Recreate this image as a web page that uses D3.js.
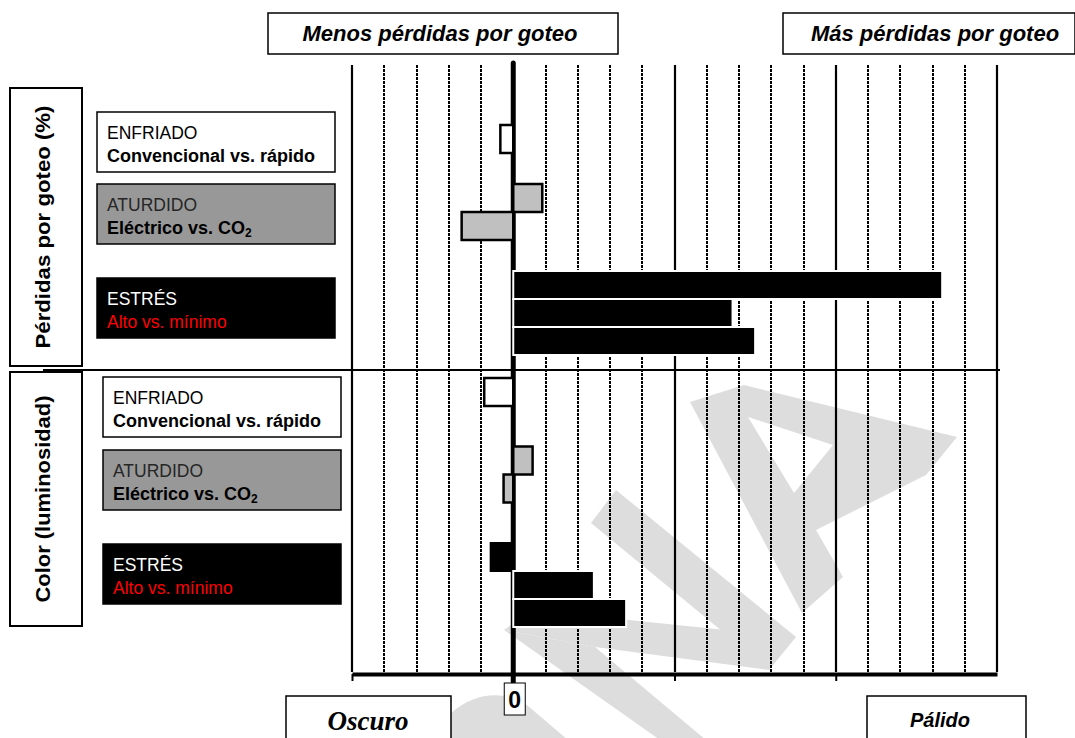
<!DOCTYPE html>
<html>
<head>
<meta charset="utf-8">
<script src="https://cdn.jsdelivr.net/npm/d3@7"></script>
<style>
    body { margin: 0; background: #ffffff; }
    svg text { font-family: "Liberation Sans", Arial, sans-serif; }
</style>
</head>
<body>
<div id="vis-container"></div>
<script>
// Chart data
const groupNames = ["ENFRIADO", "ATURDIDO", "ESTRÉS"];
const groupComparisons = ["Convencional vs. rápido", "Eléctrico vs. CO", "Alto vs. mínimo"];
const panelTitles = ["Pérdidas por goteo (%)", "Color (luminosidad)"];
const dripLossValues = [[-0.4], [0.9, -1.6], [13.3, 6.8, 7.5]];
const colourValues = [[-0.9], [0.6, -0.3], [-0.7, 2.5, 3.5]];
const xDomain = [-5, 15];
const zeroLabel = "0";
const topLabels = ["Menos pérdidas por goteo", "Más pérdidas por goteo"];
const bottomLabels = ["Oscuro", "Pálido"];

function main()
{
    // Plot frame
    const plot = { left: 352, right: 997, top: 65, bottom: 674, divider: 370 };

    // Styles per group (enfriado, aturdido, estres)
    const barFill = ["#ffffff", "#c0c0c0", "#000000"];
    const barStroke = ["#000000", "#000000", "#ffffff"];
    const boxFill = ["#ffffff", "#989898", "#000000"];
    const nameFill = ["#000000", "#262626", "#ffffff"];
    const compFill = ["#000000", "#000000", "#ff0000"];

    // Panels layout
    const panels = [
        { values: dripLossValues, barTop: 125, barBottom: 355, boxX: 97, boxTops: [112, 184, 278], titleBox: [88, 366], titleLen: 243 },
        { values: colourValues, barTop: 378, barBottom: 627, boxX: 103, boxTops: [377, 450, 544], titleBox: [372, 626], titleLen: 207 }
    ];

    const svg = d3.select("#vis-container")
        .append("svg")
        .attr("width", 1075)
        .attr("height", 738);

    const xScale = d3.scaleLinear().domain(xDomain).range([plot.left, plot.right]);

    // Watermark in the background
    const mark = svg.append("g").attr("fill", "#dddddd");
    mark.append("path")
        .attr("fill-rule", "evenodd")
        .attr("d", "M690,402L744,385L957,437L926,475L816,530L843,577L802,613Z M748,417L833,445L794,493Z");
    mark.append("path").attr("d", "M591,523L616,490L796,637L769,670Z");
    mark.append("path").attr("d", "M504,630L532,610L793,637L769,670L595,647Z");
    mark.append("path").attr("d", "M504,630L595,647L706,740L660,740Z");
    mark.append("path").attr("d", "M440,740L451,713Q482,686 521,700L568,740Z");

    // Gridlines, dotted for minor and solid for major
    const gridValues = d3.range(xDomain[0], xDomain[1] + 1, 1).filter(v => v !== 0);
    svg.append("g")
        .selectAll("line")
        .data(gridValues)
        .join("line")
        .attr("x1", d => Math.round(xScale(d)))
        .attr("x2", d => Math.round(xScale(d)))
        .attr("y1", plot.top)
        .attr("y2", plot.bottom - 2)
        .attr("stroke", "#000")
        .attr("stroke-width", d => d % 5 === 0 ? 2.2 : 2.6)
        .attr("stroke-dasharray", d => d % 5 === 0 ? null : "3,1")
        .attr("shape-rendering", d => d % 5 === 0 ? null : "crispEdges");

    // Divider between the two panels
    svg.append("line")
        .attr("x1", 43).attr("x2", 1000)
        .attr("y1", plot.divider).attr("y2", plot.divider)
        .attr("stroke", "#000").attr("stroke-width", 2);

    // Bottom axis
    const xAxis = d3.axisBottom(xScale)
        .tickValues(d3.range(xDomain[0], xDomain[1], 5))
        .tickSize(7)
        .tickSizeOuter(0)
        .tickFormat("");
    const axisG = svg.append("g")
        .attr("transform", `translate(0, ${plot.bottom})`)
        .call(xAxis);
    axisG.select(".domain").attr("stroke", "#000").attr("stroke-width", 4);
    axisG.selectAll(".tick line").attr("stroke", "#000").attr("stroke-width", 2);

    // Zero line
    svg.append("line")
        .attr("x1", xScale(0)).attr("x2", xScale(0))
        .attr("y1", plot.top - 2).attr("y2", plot.bottom + 8)
        .attr("stroke", "#000").attr("stroke-width", 5)
        .attr("stroke-linecap", "round");

    panels.forEach((panel, pi) => {
        // Rows: one unit per bar, gaps between the groups fill the rest
        const unitPx = 28;
        const barCount = d3.sum(panel.values, g => g.length);
        const gapPx = (panel.barBottom - panel.barTop - barCount * unitPx) / (panel.values.length - 1);
        const gapUnits = gapPx / unitPx;
        const totalUnits = barCount + gapUnits * (panel.values.length - 1);
        const yScale = d3.scaleLinear().domain([0, totalUnits]).range([panel.barTop, panel.barBottom]);

        const bars = [];
        let offset = 0;
        panel.values.forEach((group, gi) => {
            group.forEach(v => {
                bars.push({ group: gi, value: v, row: offset });
                offset += 1;
            });
            offset += gapUnits;
        });

        svg.append("g")
            .selectAll("rect")
            .data(bars)
            .join("rect")
            .attr("x", d => xScale(Math.min(0, d.value)))
            .attr("width", d => Math.abs(xScale(d.value) - xScale(0)))
            .attr("y", d => yScale(d.row))
            .attr("height", d => yScale(d.row + 1) - yScale(d.row))
            .attr("fill", d => barFill[d.group])
            .attr("stroke", d => d.value < 0 ? "#000" : barStroke[d.group])
            .attr("stroke-width", d => d.group === 2 ? 2 : 2.5);

        // Group label boxes
        const boxes = svg.append("g")
            .selectAll("g")
            .data(groupNames)
            .join("g")
            .attr("transform", (_, i) => `translate(${panel.boxX}, ${panel.boxTops[i]})`);

        boxes.append("rect")
            .attr("width", 238)
            .attr("height", 60)
            .attr("fill", (_, i) => boxFill[i])
            .attr("stroke", "#000")
            .attr("stroke-width", 1.5);

        boxes.append("text")
            .attr("x", 10)
            .attr("y", 27)
            .attr("font-size", 17.5)
            .attr("fill", (_, i) => nameFill[i])
            .text(d => d);

        const comp = boxes.append("text")
            .attr("x", 10)
            .attr("y", 50)
            .attr("font-size", (_, i) => i === 2 ? 17.5 : 18)
            .attr("font-weight", (_, i) => i === 2 ? "normal" : "bold")
            .attr("fill", (_, i) => compFill[i])
            .text((_, i) => groupComparisons[i]);
        comp.filter((_, i) => i === 1)
            .append("tspan")
            .attr("font-size", 12)
            .attr("dy", 3)
            .text("2");

        // Vertical panel title
        svg.append("rect")
            .attr("x", 10)
            .attr("y", panel.titleBox[0])
            .attr("width", 72)
            .attr("height", panel.titleBox[1] - panel.titleBox[0])
            .attr("fill", "#fff")
            .attr("stroke", "#000")
            .attr("stroke-width", 2);

        const cy = (panel.titleBox[0] + panel.titleBox[1]) / 2;
        svg.append("text")
            .attr("transform", `translate(50, ${cy}) rotate(-90)`)
            .attr("text-anchor", "middle")
            .attr("font-size", 21)
            .attr("font-weight", "bold")
            .attr("textLength", panel.titleLen)
            .attr("lengthAdjust", "spacingAndGlyphs")
            .text(panelTitles[pi]);
    });

    // Top labels
    const topBoxes = [[268, 350, 440], [783, 292, 935]];
    topBoxes.forEach((b, i) => {
        svg.append("rect")
            .attr("x", b[0]).attr("y", 13)
            .attr("width", b[1]).attr("height", 41)
            .attr("fill", "#fff").attr("stroke", "#000").attr("stroke-width", 1.5);
        svg.append("text")
            .attr("x", b[2]).attr("y", 41)
            .attr("text-anchor", "middle")
            .attr("font-size", 22)
            .attr("font-weight", "bold")
            .attr("font-style", "italic")
            .text(topLabels[i]);
    });

    // Bottom labels
    svg.append("rect")
        .attr("x", 286).attr("y", 696).attr("width", 165).attr("height", 60)
        .attr("fill", "#fff").attr("stroke", "#000").attr("stroke-width", 1.5);
    svg.append("text")
        .attr("x", 368).attr("y", 730)
        .attr("text-anchor", "middle")
        .style("font-family", "'Liberation Serif', 'Times New Roman', serif")
        .attr("font-size", 27)
        .attr("font-weight", "bold")
        .attr("font-style", "italic")
        .text(bottomLabels[0]);

    svg.append("rect")
        .attr("x", 867).attr("y", 696).attr("width", 159).attr("height", 60)
        .attr("fill", "#fff").attr("stroke", "#000").attr("stroke-width", 1.5);
    svg.append("text")
        .attr("x", 940).attr("y", 727)
        .attr("text-anchor", "middle")
        .attr("font-size", 20)
        .attr("font-weight", "bold")
        .attr("font-style", "italic")
        .text(bottomLabels[1]);

    // Zero tick label
    svg.append("rect")
        .attr("x", xScale(0) - 9).attr("y", 683).attr("width", 21).attr("height", 32)
        .attr("fill", "#fff").attr("stroke", "#000").attr("stroke-width", 1);
    svg.append("text")
        .attr("x", xScale(0) + 1.5).attr("y", 708)
        .attr("text-anchor", "middle")
        .attr("font-size", 23)
        .attr("font-weight", "bold")
        .text(zeroLabel);
}

document.addEventListener("DOMContentLoaded", main);
</script>
</body>
</html>
